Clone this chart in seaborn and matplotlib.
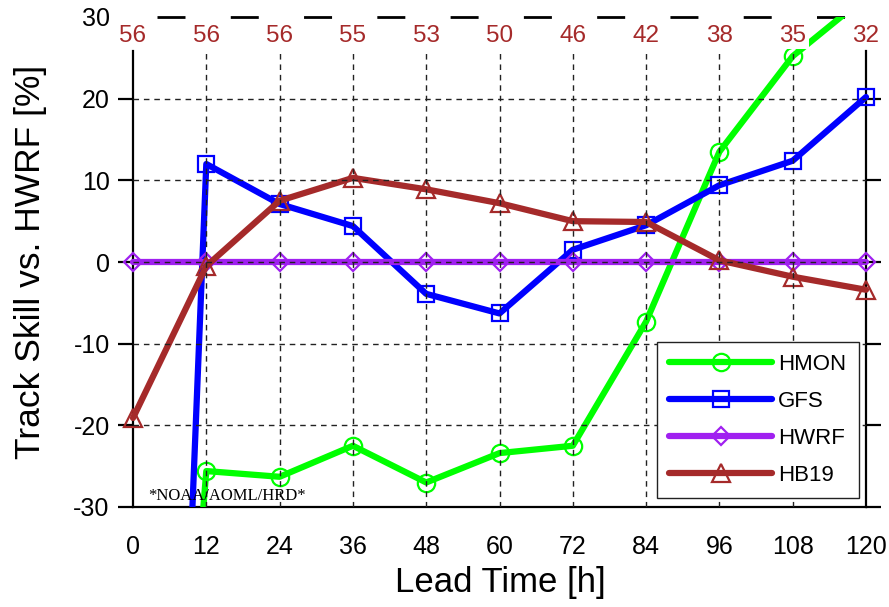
import matplotlib
matplotlib.use("Agg")
import matplotlib.pyplot as plt
import matplotlib.patches as mpatches
from matplotlib.lines import Line2D
import numpy as np
import pandas as pd
import seaborn as sns

# Forecast lead times [h] and homogeneous sample sizes
lead_time = [0, 12, 24, 36, 48, 60, 72, 84, 96, 108, 120]
sample_count = [56, 56, 56, 55, 53, 50, 46, 42, 38, 35, 32]

# Track skill relative to HWRF [%]
hmon = [-135.0, -25.6, -26.3, -22.5, -27.0, -23.4, -22.5, -7.3, 13.5, 25.2, 32.5]
gfs = [-210.0, 12.0, 7.1, 4.4, -3.9, -6.3, 1.5, 4.5, 9.4, 12.4, 20.2]
hwrf = [0.0, 0.0, 0.0, 0.0, 0.0, 0.0, 0.0, 0.0, 0.0, 0.0, 0.0]
hb19 = [-19.1, -0.5, 7.5, 10.3, 8.9, 7.2, 5.0, 4.9, 0.2, -1.8, -3.4]

models = ["HMON", "GFS", "HWRF", "HB19"]
colors = {"HMON": "#00ff00", "GFS": "#0000ff", "HWRF": "#a020f0", "HB19": "#a52a2a"}
markers = {"HMON": "o", "GFS": "s", "HWRF": "D", "HB19": "^"}
marker_sizes = {"HMON": 12.5, "GFS": 12, "HWRF": 9, "HB19": 12.5}
count_color = "#a52a2a"

df = pd.DataFrame({
    "lead": lead_time * 4,
    "skill": hmon + gfs + hwrf + hb19,
    "model": [m for m in models for _ in lead_time],
})

sns.set_style("white")
plt.rcParams["font.family"] = ["Liberation Sans", "DejaVu Sans"]
plt.rcParams["axes.unicode_minus"] = False
plt.rcParams["axes.labelcolor"] = "black"
plt.rcParams["text.color"] = "black"

fig = plt.figure(figsize=(8.89, 6.07), dpi=100)
ax = fig.add_axes([133 / 889, 1 - 507 / 607, 733 / 889, 490 / 607])

Y_MIN, Y_MAX = -30, 30
GRID_TOP = 25.8

# Curves: clipped to the value range, markers allowed to sit on the side frames
clip_box = mpatches.Rectangle((-6, Y_MIN), 132, Y_MAX - Y_MIN, transform=ax.transData)
handles = []
for m in models:
    sub = df[df["model"] == m]
    n_before = len(ax.lines)
    sns.lineplot(data=sub, x="lead", y="skill", ax=ax, color=colors[m],
                 marker=markers[m], markersize=marker_sizes[m], mfc="none",
                 mec=colors[m], mew=1.6, lw=4.5, legend=False, zorder=3)
    for ln in ax.lines[n_before:]:
        ln.set_clip_path(clip_box)
    handles.append(Line2D([], [], color=colors[m], marker=markers[m],
                          markersize=marker_sizes[m], mfc="none", mec=colors[m],
                          mew=1.6, lw=4.5, label=m))

ax.set_xlim(0, 120)
ax.set_ylim(Y_MIN, Y_MAX)

# Dashed grid
grid_kw = dict(color="#222222", lw=1.0, linestyle=(0, (4, 3.5)), zorder=4)
ax.hlines([-20, -10, 0, 10, 20], 0, 120, **grid_kw)
ax.vlines(lead_time[1:-1], Y_MIN, GRID_TOP, **grid_kw)

# Frame
for side in ["left", "right"]:
    ax.spines[side].set_bounds(Y_MIN, GRID_TOP)
    ax.spines[side].set_linewidth(1.6)
    ax.spines[side].set_color("black")
ax.spines["bottom"].set_linewidth(1.6)
ax.spines["bottom"].set_color("black")
ax.spines["top"].set_visible(False)

# Long-dash line along the upper limit
ax.plot([0, 120], [Y_MAX, Y_MAX], color="black", lw=2,
        linestyle=(17.74, (10.08, 16.3)), clip_on=False, zorder=2)

# Ticks
ax.set_xticks(lead_time)
ax.set_xticklabels([str(t) for t in lead_time])
ax.set_yticks(np.arange(-30, 31, 10))
ax.tick_params(axis="x", direction="inout", length=16, width=1.6, pad=12,
               labelsize=18, colors="black", top=False)
ax.tick_params(axis="y", direction="out", length=10.8, width=1.6, pad=6,
               labelsize=18, colors="black", left=True, right=True)
top_tick = ax.yaxis.get_major_ticks()[-1]
top_tick.tick1line.set_visible(False)
top_tick.tick2line.set_visible(False)

# Sample counts above each lead time
for t, n in zip(lead_time, sample_count):
    ax.text(t, 27.0, str(n), ha="center", va="baseline", fontsize=17.5,
            color=count_color, zorder=6,
            bbox=dict(facecolor="white", edgecolor="none", boxstyle="square,pad=0.12"))

ax.text(2.45, -29.2, "*NOAA/AOML/HRD*", fontsize=12, va="baseline", ha="left",
        family=["Liberation Serif", "DejaVu Serif"], color="black", zorder=5)

ax.set_xlabel("Lead Time [h]", fontsize=25, color="black")
ax.set_ylabel("Track Skill vs. HWRF [%]", fontsize=25.5, color="black")
ax.xaxis.set_label_coords(0.501, -0.12)
ax.yaxis.set_label_coords(-0.118, 0.5)

leg = ax.legend(handles=handles, loc="lower right", bbox_to_anchor=(0.99, 0.018),
                borderaxespad=0, fontsize=16, handlelength=4.6, handletextpad=0.3,
                labelspacing=0.72, borderpad=0.55, numpoints=1, fancybox=False,
                framealpha=1, edgecolor="#222222")
leg.get_frame().set_linewidth(1.0)
leg.set_zorder(7)

fig.savefig("out.png", dpi=100, facecolor="white")
